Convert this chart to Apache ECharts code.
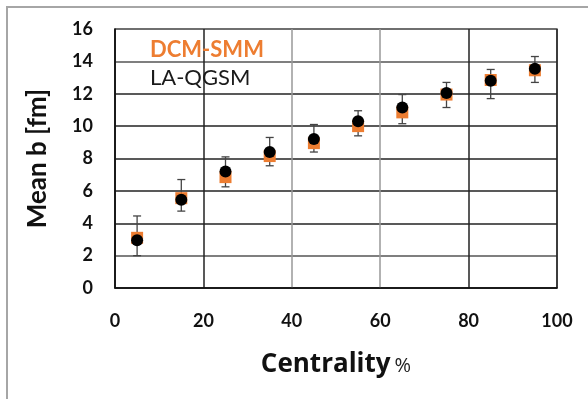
<!DOCTYPE html>
<html>
<head>
<meta charset="utf-8">
<script src="https://cdn.jsdelivr.net/npm/echarts@6/dist/echarts.min.js"></script>
<style>
  html, body { margin: 0; padding: 0; background: #fff; }
</style>
</head>
<body>
<div id="chart" style="width: 588px;height: 399px;"></div>
<script>
  // centrality bins (%)
  var centrality = [5, 15, 25, 35, 45, 55, 65, 75, 85, 95]
  var dcmSmm = [3.1, 5.55, 6.85, 8.15, 8.95, 10.0, 10.85, 11.95, 12.85, 13.45]
  var laQgsm = [2.95, 5.45, 7.2, 8.4, 9.2, 10.3, 11.15, 12.05, 12.8, 13.55]
  // error bar ends
  var errLow = [2.0, 4.75, 6.25, 7.55, 8.4, 9.4, 10.15, 11.15, 11.7, 12.7]
  var errHigh = [4.45, 6.7, 8.1, 9.3, 10.1, 10.95, 11.95, 12.7, 13.5, 14.3]
  var yTicks = [0, 2, 4, 6, 8, 10, 12, 14, 16]
  var xTicks = [0, 20, 40, 60, 80, 100]

  var font = 'Lato, "Open Sans", sans-serif'

  var chart = echarts.init(document.getElementById('chart'))

  var errData = centrality.map(function (c, i) {
    return [c, errLow[i], errHigh[i]]
  })

  var option = {
    animation: false,
    backgroundColor: '#fff',
    graphic: [
      {
        type: 'rect',
        shape: { x: 7, y: 7, width: 620, height: 420 },
        style: { fill: 'none', stroke: '#a6a6a6', lineWidth: 2 },
        z: -1
      }
    ],
    legend: {
      orient: 'vertical',
      left: 140,
      top: 34,
      itemWidth: 0,
      itemHeight: 0,
      itemGap: 6,
      icon: 'none',
      selectedMode: false,
      data: [
        { name: 'DCM-SMM', textStyle: { color: '#ED7D31', fontWeight: 'bold' } },
        { name: 'LA-QGSM', textStyle: { color: '#1a1a1a', fontWeight: 'normal' } }
      ],
      textStyle: { fontFamily: font, fontSize: 22 }
    },
    grid: {
      left: 115,
      right: 31,
      top: 29,
      bottom: 111,
      show: true,
      borderColor: '#666',
      borderWidth: 1.5
    },
    xAxis: {
      type: 'value',
      min: xTicks[0],
      max: xTicks[xTicks.length - 1],
      interval: 20,
      name: '{a|Centrality}{b|%}',
      nameLocation: 'middle',
      nameGap: 64,
      nameTextStyle: {
        rich: {
          a: { fontFamily: '"Open Sans", Lato, sans-serif', fontSize: 26, fontWeight: 'bold', color: '#111' },
          b: { fontFamily: '"Open Sans", Lato, sans-serif', fontSize: 20, color: '#222', padding: [2, 0, 0, 4] }
        }
      },
      axisLine: { show: true, lineStyle: { color: '#111', width: 1.5 } },
      axisTick: { show: false },
      axisLabel: {
        margin: 24,
        color: '#111',
        fontFamily: font,
        fontSize: 18,
        fontWeight: 'bold'
      },
      splitLine: {
        lineStyle: {
          color: ['#222', '#222', '#999', '#999', '#222', '#222'],
          width: 1.5
        }
      }
    },
    yAxis: {
      type: 'value',
      min: yTicks[0],
      max: yTicks[yTicks.length - 1],
      interval: 2,
      name: 'Mean b [fm]',
      nameLocation: 'middle',
      nameGap: 64,
      nameTextStyle: { fontFamily: font, fontSize: 26, fontWeight: 'bold', color: '#111' },
      axisLine: { show: true, lineStyle: { color: '#111', width: 1.5 } },
      axisTick: { show: false },
      axisLabel: {
        margin: 22,
        color: '#111',
        fontFamily: font,
        fontSize: 18,
        fontWeight: 'bold'
      },
      splitLine: {
        lineStyle: {
          color: ['#222', '#555', '#222', '#222', '#222', '#222', '#222', '#555', '#666'],
          width: 1.5
        }
      }
    },
    series: [
      {
        name: 'err',
        type: 'custom',
        z: 1,
        silent: true,
        renderItem: function (params, api) {
          var x = api.coord([api.value(0), api.value(1)])[0]
          var lo = api.coord([api.value(0), api.value(1)])[1]
          var hi = api.coord([api.value(0), api.value(2)])[1]
          var w = 4
          var style = { stroke: '#444', lineWidth: 1.3 }
          return {
            type: 'group',
            children: [
              { type: 'line', shape: { x1: x, y1: lo, x2: x, y2: hi }, style: style },
              { type: 'line', shape: { x1: x - w, y1: lo, x2: x + w, y2: lo }, style: style },
              { type: 'line', shape: { x1: x - w, y1: hi, x2: x + w, y2: hi }, style: style }
            ]
          }
        },
        encode: { x: 0, y: [1, 2] },
        data: errData
      },
      {
        name: 'DCM-SMM',
        type: 'scatter',
        z: 2,
        symbol: 'rect',
        symbolSize: 12,
        itemStyle: { color: '#ED7D31', opacity: 1 },
        data: centrality.map(function (c, i) { return [c, dcmSmm[i]] })
      },
      {
        name: 'LA-QGSM',
        type: 'scatter',
        z: 3,
        symbol: 'circle',
        symbolSize: 12,
        itemStyle: { color: '#000', opacity: 1 },
        data: centrality.map(function (c, i) { return [c, laQgsm[i]] })
      }
    ]
  }

  chart.setOption(option)
  window.addEventListener('resize', function () {
    chart.resize()
  })
</script>
</body>
</html>
